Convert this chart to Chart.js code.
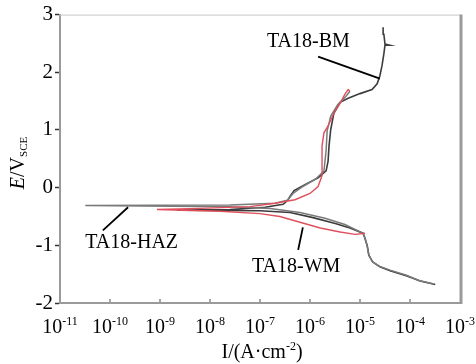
<!DOCTYPE html>
<html><head><meta charset="utf-8">
<script src="https://cdn.jsdelivr.net/npm/chart.js@4.4.1/dist/chart.umd.min.js"></script>
<style>html,body{margin:0;padding:0;background:#fff}#wrap{width:476px;height:364px;position:relative}</style>
</head><body><div id="wrap"><canvas id="c" width="476" height="364"></canvas></div>
<script>
// Tick labels (decade exponents) and axis ranges
const xExponents = [-11,-10,-9,-8,-7,-6,-5,-4,-3];
const yTicks = [-2,-1,0,1,2,3];

// TA18-BM (current density A/cm2, potential V vs SCE), sweep order
const bmI = [3.2e-4,1.6e-4,8.7e-5,4.0e-5,2.5e-5,1.8e-5,1.5e-5,1.4e-5,1.26e-5,1.15e-5,6.3e-6,3.2e-6,1.15e-6,4.0e-7,1.0e-7,1.6e-8,2.2e-9,
  2.5e-8,1.26e-7,2.9e-7,3.6e-7,4.0e-7,4.8e-7,7.9e-7,1.45e-6,2.1e-6,2.3e-6,2.4e-6,2.6e-6,3.0e-6,4.0e-6,5.8e-6,1.0e-5,1.74e-5,2.2e-5,2.5e-5,2.75e-5,3.0e-5,3.16e-5,3.9e-5,3.16e-5,3.0e-5,2.9e-5];
const bmE = [-1.68,-1.62,-1.53,-1.44,-1.37,-1.29,-1.17,-1.01,-0.88,-0.79,-0.70,-0.62,-0.52,-0.43,-0.40,-0.395,-0.39,
  -0.38,-0.34,-0.29,-0.22,-0.15,-0.05,0.05,0.17,0.29,0.46,0.72,1.01,1.29,1.48,1.55,1.63,1.70,1.80,1.94,2.11,2.32,2.47,2.47,2.49,2.66,2.78];

// TA18-HAZ
const hazI = [3.0e-4,1.5e-4,8.5e-5,4.0e-5,2.4e-5,1.75e-5,1.5e-5,1.38e-5,1.25e-5,1.15e-5,5.0e-6,2.0e-6,6.3e-7,1.6e-7,2.5e-8,3.2e-11,
  2.5e-8,2.0e-7,3.5e-7,4.6e-7,7.2e-7,1.3e-6,1.9e-6,2.1e-6,2.2e-6,2.6e-6,3.6e-6,5.2e-6,6.3e-6];
const hazE = [-1.67,-1.61,-1.52,-1.43,-1.36,-1.28,-1.16,-1.00,-0.87,-0.79,-0.64,-0.53,-0.43,-0.36,-0.33,-0.31,
  -0.30,-0.27,-0.22,-0.10,0.02,0.15,0.29,0.64,0.98,1.24,1.44,1.58,1.67];

// TA18-WM
const wmI = [1.26e-5,8.0e-6,4.0e-6,1.6e-6,6.3e-7,2.5e-7,1.0e-7,1.6e-8,8.7e-10,
  6.3e-9,6.3e-8,2.0e-7,5.0e-7,1.0e-6,1.45e-6,1.74e-6,1.74e-6,1.74e-6,1.9e-6,2.3e-6,3.0e-6,4.0e-6,5.0e-6,5.8e-6,6.3e-6];
const wmE = [-0.79,-0.81,-0.77,-0.70,-0.60,-0.50,-0.45,-0.41,-0.38,
  -0.36,-0.33,-0.27,-0.21,-0.10,0.02,0.21,0.46,0.72,0.95,1.07,1.29,1.46,1.62,1.70,1.67];

// Curve labels with leader lines (data coordinates)
const labelText = ['TA18-BM','TA18-HAZ','TA18-WM'];
const labelI = [1.38e-7,3.2e-11,6.9e-8];
const labelE = [2.43,-1.05,-1.46];
const leadFromI = [1.45e-6,7.2e-11,5.8e-7];
const leadFromE = [2.27,-0.74,-1.08];
const leadToI = [2.5e-5,2.3e-10,7.2e-7];
const leadToE = [1.89,-0.34,-0.69];

const pts = (xs, ys) => xs.map((v,i)=>({x:v,y:ys[i]}));
const SERIF = '"Liberation Serif","Times New Roman",serif';

const overlay = {
  id:'overlay',
  afterDraw(chart){
    const ctx = chart.ctx, ca = chart.chartArea;
    const xs = chart.scales.x, ys = chart.scales.y;
    ctx.save();
    // frame
    ctx.strokeStyle = '#c8c8c8'; ctx.lineWidth = 1;
    ctx.beginPath(); ctx.moveTo(ca.left, ca.top+0.5); ctx.lineTo(ca.right, ca.top+0.5); ctx.stroke();
    ctx.strokeStyle = '#9a9a9a'; ctx.lineWidth = 3;
    ctx.beginPath(); ctx.moveTo(ca.right+1, ca.top); ctx.lineTo(ca.right+1, ca.bottom+1); ctx.stroke();
    // x tick marks (inner, small)
    ctx.strokeStyle = '#888'; ctx.lineWidth = 1.5;
    xExponents.slice(1,-1).forEach(e=>{
      const px = xs.getPixelForValue(Math.pow(10,e));
      ctx.beginPath(); ctx.moveTo(px, ca.bottom-1); ctx.lineTo(px, ca.bottom-4); ctx.stroke();
    });
    // x tick labels with superscripts
    ctx.fillStyle = '#000'; ctx.textBaseline = 'alphabetic';
    xExponents.forEach(e=>{
      const px = xs.getPixelForValue(Math.pow(10,e));
      ctx.font = '20px '+SERIF; const w1 = ctx.measureText('10').width;
      ctx.font = '12px '+SERIF; const sup = String(e); const w2 = ctx.measureText(sup).width;
      const x0 = px - (w1+w2)/2;
      ctx.font = '20px '+SERIF; ctx.textAlign='left'; ctx.fillText('10', x0, ca.bottom+30);
      ctx.font = '12px '+SERIF; ctx.fillText(sup, x0+w1, ca.bottom+22);
    });
    // x axis title
    {
      const parts = [['I/(A\u00B7cm','20px',0],['-2','12px',-8],[')','20px',0]];
      let tw = 0; parts.forEach(p=>{ctx.font=p[1]+' '+SERIF; tw+=ctx.measureText(p[0]).width;});
      let x = (ca.left+ca.right)/2 - tw/2 + 2; const y = 358;
      parts.forEach(p=>{ctx.font=p[1]+' '+SERIF; ctx.fillText(p[0], x, y+p[2]); x+=ctx.measureText(p[0]).width;});
    }
    // y axis title (rotated)
    {
      ctx.save(); ctx.translate(24, 163); ctx.rotate(-Math.PI/2);
      const parts = [['E','italic 20px',0],['/V','20px',0],['SCE','11px',3]];
      let tw = 0; parts.forEach(p=>{ctx.font=p[1]+' '+SERIF; tw+=ctx.measureText(p[0]).width;});
      let x = -tw/2;
      parts.forEach(p=>{ctx.font=p[1]+' '+SERIF; ctx.fillText(p[0], x, p[2]); x+=ctx.measureText(p[0]).width;});
      ctx.restore();
    }
    // curve labels and leader lines
    ctx.strokeStyle = '#000'; ctx.lineWidth = 1.8;
    labelText.forEach((t,i)=>{
      ctx.beginPath();
      ctx.moveTo(xs.getPixelForValue(leadFromI[i]), ys.getPixelForValue(leadFromE[i]));
      ctx.lineTo(xs.getPixelForValue(leadToI[i]), ys.getPixelForValue(leadToE[i]));
      ctx.stroke();
      ctx.font = '20px '+SERIF; ctx.textAlign='left'; ctx.fillStyle='#000';
      ctx.fillText(t, xs.getPixelForValue(labelI[i]), ys.getPixelForValue(labelE[i]));
    });
    ctx.restore();
  }
};

new Chart(document.getElementById('c'), {
  type:'scatter',
  data:{datasets:[
    {label:'TA18-WM', data:pts(wmI,wmE), showLine:true, borderColor:'#e0505c', borderWidth:1.4, pointRadius:0, tension:0},
    {label:'TA18-HAZ', data:pts(hazI,hazE), showLine:true, borderColor:'#7a7a7a', borderWidth:1.5, pointRadius:0, tension:0},
    {label:'TA18-BM', data:pts(bmI,bmE), showLine:true, borderColor:'#3c3c3c', borderWidth:1.6, pointRadius:0, tension:0}
  ]},
  options:{
    responsive:false, animation:false,
    layout:{padding:{top:12,right:16,left:0,bottom:0}},
    plugins:{legend:{display:false}, tooltip:{enabled:false}},
    scales:{
      x:{type:'logarithmic', min:1e-11, max:1e-3,
        grid:{display:false}, border:{color:'#9a9a9a', width:2},
        ticks:{display:false},
        afterFit(s){ s.height = 61; }},
      y:{type:'linear', min:-2, max:3,
        afterBuildTicks(s){ s.ticks = yTicks.map(v=>({value:v})); },
        grid:{drawOnChartArea:false, drawTicks:true, tickLength:5, tickColor:'#333', tickWidth:1.5},
        border:{color:'#9a9a9a', width:2},
        ticks:{color:'#000', padding:2, font:{family:SERIF, size:21}},
        afterFit(s){ s.width = 60; }}
    }
  },
  plugins:[overlay]
});
</script></body></html>
